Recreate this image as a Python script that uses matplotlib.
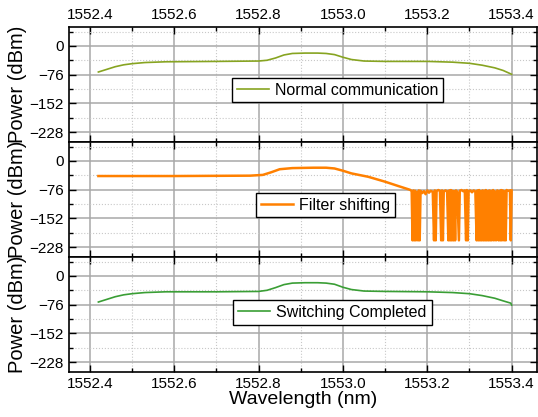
import matplotlib
matplotlib.use("Agg")
import matplotlib.pyplot as plt
from matplotlib.ticker import MultipleLocator

plt.rcParams['font.family'] = ['Liberation Sans', 'DejaVu Sans']

# ---- data ----
wl_normal = [1552.42, 1552.44, 1552.46, 1552.48, 1552.50, 1552.53, 1552.58, 1552.70,
             1552.80, 1552.82, 1552.84, 1552.86, 1552.88, 1552.91, 1552.94, 1552.96,
             1552.98, 1553.00, 1553.02, 1553.05, 1553.10, 1553.20, 1553.26, 1553.30,
             1553.33, 1553.36, 1553.38, 1553.40]
pw_normal = [-69, -62, -55, -50, -47, -44, -42, -41,
             -40, -38, -32, -24, -20, -19, -19, -20,
             -23, -30, -36, -40, -41, -41, -43, -46,
             -51, -58, -65, -75]

wl_shift = [1552.42, 1552.60, 1552.78, 1552.81, 1552.83, 1552.85, 1552.88, 1552.93,
            1552.96, 1552.98, 1553.00, 1553.02, 1553.06, 1553.10, 1553.13, 1553.158,
            1553.160, 1553.163, 1553.165, 1553.167, 1553.169, 1553.171, 1553.173, 1553.175, 1553.178,
            1553.180, 1553.182, 1553.184, 1553.188, 1553.192, 1553.196, 1553.200, 1553.204,
            1553.208, 1553.213, 1553.216, 1553.218, 1553.220, 1553.222, 1553.226, 1553.230,
            1553.233, 1553.235, 1553.237, 1553.239, 1553.243, 1553.247, 1553.250, 1553.252,
            1553.254, 1553.256, 1553.258, 1553.260, 1553.262, 1553.264, 1553.266, 1553.268, 1553.271,
            1553.275, 1553.277, 1553.281, 1553.285, 1553.289, 1553.292, 1553.294, 1553.296,
            1553.298, 1553.302, 1553.306, 1553.310, 1553.314, 1553.317, 1553.319, 1553.321,
            1553.323, 1553.325, 1553.327, 1553.329, 1553.331, 1553.333, 1553.335, 1553.337,
            1553.339, 1553.341, 1553.343, 1553.345, 1553.347, 1553.349, 1553.351, 1553.353,
            1553.356, 1553.358, 1553.360, 1553.363, 1553.366, 1553.369, 1553.371, 1553.373, 1553.375,
            1553.377, 1553.379, 1553.382, 1553.384, 1553.386, 1553.388, 1553.392, 1553.396,
            1553.398, 1553.400]
pw_shift = [-40, -40, -39, -37, -30, -22, -19, -18,
            -18, -20, -26, -33, -42, -55, -66, -76,
            -77, -80, -210, -78, -210, -79, -210, -82, -210,
            -78, -210, -79, -85, -80, -88, -78, -84,
            -79, -82, -210, -78, -210, -80, -77, -79,
            -210, -78, -210, -82, -78, -80, -210, -78,
            -210, -77, -210, -79, -210, -80, -210, -78, -82,
            -210, -79, -77, -80, -78, -210, -77, -210,
            -80, -78, -83, -78, -81, -210, -78, -210,
            -77, -210, -80, -210, -78, -210, -79, -210,
            -77, -210, -80, -210, -78, -210, -79, -210,
            -77, -210, -80, -210, -78, -210, -79, -210, -77,
            -210, -78, -210, -80, -210, -77, -79, -78,
            -210, -78]

wl_switch = [1552.42, 1552.44, 1552.46, 1552.48, 1552.50, 1552.53, 1552.58, 1552.70,
             1552.80, 1552.82, 1552.84, 1552.86, 1552.88, 1552.91, 1552.94, 1552.96,
             1552.98, 1553.00, 1553.02, 1553.05, 1553.10, 1553.20, 1553.26, 1553.30,
             1553.33, 1553.36, 1553.38, 1553.398, 1553.40]
pw_switch = [-69, -62, -55, -50, -47, -44, -42, -42,
             -41, -38, -31, -23, -19, -18, -18, -19,
             -22, -30, -36, -40, -41, -42, -44, -47,
             -52, -59, -66, -72, -77]

labels = ['Normal communication', 'Filter shifting', 'Switching Completed']
colors = ['#87a421', '#ff8000', '#3a9e35']
y_ticks = [0, -76, -152, -228]

fig = plt.figure(figsize=(5.38, 4.17), dpi=100)

left, width, height = 0.128, 0.870, 0.2758
bottoms = [0.6595, 0.3837, 0.1079]
legend_pos = [(0.574, 0.452), (0.548, 0.452), (0.563, 0.517)]
series = [(wl_normal, pw_normal), (wl_shift, pw_shift), (wl_switch, pw_switch)]

axes = []
for i, (wl, pw) in enumerate(series):
    ax = fig.add_axes([left, bottoms[i], width, height])
    ax.plot(wl, pw, color=colors[i], lw=1.8 if i == 1 else 1.2, label=labels[i])
    ax.set_xlim(1552.35, 1553.46)
    ax.set_ylim(-254, 50)
    ax.set_yticks(y_ticks)
    ax.yaxis.set_minor_locator(MultipleLocator(38))
    ax.xaxis.set_major_locator(MultipleLocator(0.2))
    ax.xaxis.set_minor_locator(MultipleLocator(0.1))
    ax.grid(which='major', color='#a8a8a8', lw=1.1, ls='-')
    ax.grid(which='minor', color='#c8c8c8', lw=0.8, ls=':')
    ax.set_axisbelow(True)
    ax.tick_params(which='both', direction='in', top=True, right=True,
                   labelsize=11, colors='black')
    ax.tick_params(which='major', length=5, width=1)
    ax.tick_params(which='minor', length=3, width=1)
    for s in ax.spines.values():
        s.set_linewidth(1.2)
    ax.set_ylabel('Power (dBm)', fontsize=14.5, labelpad=2)
    ax.legend(loc='center', bbox_to_anchor=legend_pos[i], fontsize=11.5,
              frameon=True, fancybox=False, edgecolor='black', framealpha=1,
              handlelength=2.0, borderpad=0.3, handletextpad=0.4)
    ax.get_legend().get_frame().set_linewidth(1.0)
    axes.append(ax)

axes[0].tick_params(labelbottom=False, labeltop=True)
axes[1].tick_params(labelbottom=False)
axes[2].set_xlabel('Wavelength (nm)', fontsize=14, labelpad=0)

fig.savefig('out.png', dpi=100)
